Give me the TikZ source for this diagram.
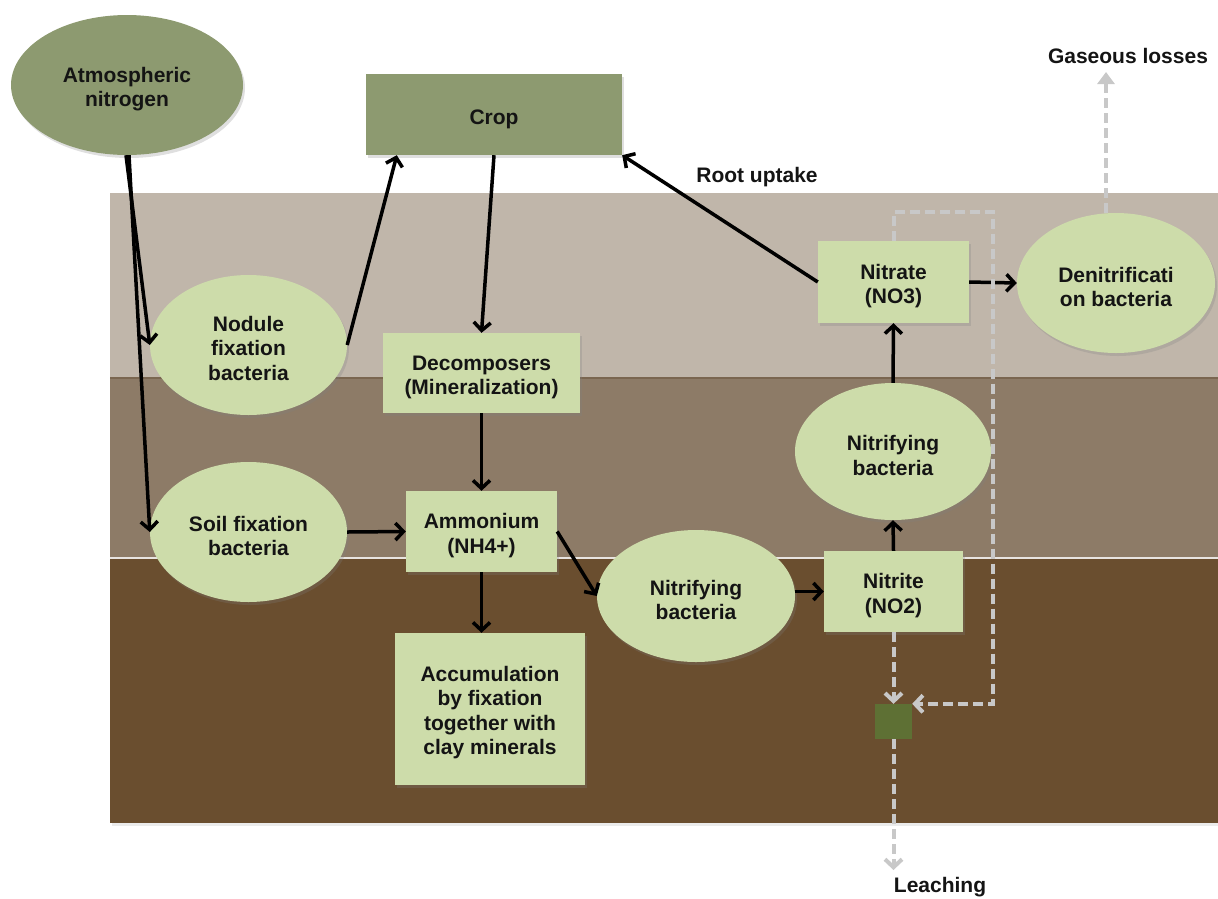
\documentclass[tikz,border=0pt]{standalone}
\usepackage{fontspec}
\setmainfont{Liberation Sans}
\usetikzlibrary{arrows.meta,shapes.geometric,shadows}
\definecolor{bandA}{HTML}{C0B6AA}
\definecolor{bandB}{HTML}{8D7B67}
\definecolor{bandC}{HTML}{6A4E2F}
\definecolor{bandLine}{HTML}{7A6650}
\definecolor{lgreen}{HTML}{CDDCAA}
\definecolor{atmcol}{HTML}{8D9A70}
\definecolor{sqcol}{HTML}{5E7034}
\definecolor{dashgray}{HTML}{C8C8C8}
\tikzset{
  lbl/.style={font=\bfseries\fontsize{21}{24.5}\selectfont, text=black!92, align=center},
  lineA/.style={text height=23.5pt},
  lineB/.style={text height=48pt},
  lineC/.style={text height=71pt},
  lineD/.style={text height=96pt},
  shad/.style={drop shadow={opacity=0.25, shadow xshift=2pt, shadow yshift=-3pt}},
  gbox/.style={lbl, rectangle, fill=lgreen, inner sep=0pt, shad},
  gell/.style={lbl, ellipse, fill=lgreen, inner sep=0pt, shad},
  arr/.style={line width=3.5pt, black, -{Straight Barb[length=8pt,width=17pt]}},
  garr/.style={line width=4pt, dashgray, dash pattern=on 10pt off 5pt, -{Straight Barb[length=8pt,width=17pt]}},
  gtri/.style={line width=4pt, dashgray, dash pattern=on 10pt off 5pt, -{Triangle[length=12pt,width=17pt]}}
}
\begin{document}
\begin{tikzpicture}[x=1pt,y=-1pt]
\path[use as bounding box] (0,0) rectangle (1218,898);
% soil layers
\fill[black,opacity=0.08] (112,195) rectangle (1218,826);
\fill[bandA] (110,193) rectangle (1218,378);
\fill[bandB] (110,378) rectangle (1218,558);
\fill[bandC] (110,558) rectangle (1218,823);
\draw[line width=1.5pt, bandLine] (110,378) -- (1218,378);
\draw[line width=1.5pt, white!80!bandB] (110,558) -- (1218,558);

% nodes
\node[lbl, lineB, ellipse, fill=atmcol, inner sep=0pt, shad, minimum width=232pt, minimum height=140pt] (atm) at (127,85) {Atmospheric\\nitrogen};
\node[lbl, lineA, rectangle, fill=atmcol, inner sep=0pt, shad, minimum width=256pt, minimum height=81pt] (crop) at (494,114.5) {Crop};
\node[gell, lineC, minimum width=197pt, minimum height=140pt] (nod) at (248.5,345) {Nodule\\fixation\\bacteria};
\node[gell, lineB, minimum width=197pt, minimum height=140pt] (soil) at (248.5,532) {Soil fixation\\bacteria};
\node[gbox, lineB, minimum width=197pt, minimum height=80pt] (dec) at (481.5,373) {Decomposers\\(Mineralization)};
\node[gbox, lineB, minimum width=151pt, minimum height=81pt] (amm) at (481.5,531.5) {Ammonium\\(NH4+)};
\node[gbox, lineD, minimum width=190pt, minimum height=152pt] (acc) at (490,709) {Accumulation\\by fixation\\together with\\clay minerals};
\node[gell, lineB, minimum width=198pt, minimum height=132pt] (nitl) at (696,596) {Nitrifying\\bacteria};
\node[gbox, lineB, minimum width=139pt, minimum height=81pt] (nitrite) at (893.5,591.5) {Nitrite\\(NO2)};
\node[gell, lineB, minimum width=196pt, minimum height=137pt] (nitu) at (893,451.5) {Nitrifying\\bacteria};
\node[gbox, lineB, minimum width=151pt, minimum height=82pt] (nitrate) at (893.5,282) {Nitrate\\(NO3)};
\node[gell, lineB, minimum width=198pt, minimum height=140pt] (den) at (1116,283) {Denitrificati\\on bacteria};
\node[rectangle, fill=sqcol, inner sep=0pt, minimum width=37pt, minimum height=35pt] (sq) at (893.5,721.5) {};

\node[lbl] (root) at (757,177) {Root uptake};
\node[lbl] (gas) at (1128,56) {Gaseous losses};
\node[lbl] (leach) at (940,887) {Leaching};
\coordinate (c1) at (993,212);
\coordinate (gasend) at (1106,72);
\coordinate (leachend) at (893.5,870);

% connectors
\draw[arr] ([xshift=-1pt]atm.south) -- (nod.west);
\draw[arr] ([xshift=2pt]atm.south) -- (soil.west);
\draw[arr] (nod.east) -- ([xshift=31pt]crop.south west);
\draw[arr] (crop.south) -- (dec.north);
\draw[arr] (dec.south) -- (amm.north);
\draw[arr] (soil.east) -- (amm.west);
\draw[arr] (amm.south) -- (amm.south |- acc.north);
\draw[arr] (amm.east) -- (nitl.west);
\draw[arr] (nitl.east |- nitrite.west) -- (nitrite.west);
\draw[arr] (nitrite.north) -- (nitu.south);
\draw[arr] (nitu.north) -- (nitrate.south);
\draw[arr] (nitrate.west) -- (crop.south east);
\draw[arr] (nitrate.east) -- (den.west);

% dashed
\draw[garr] (nitrate.north) |- (c1) |- (sq.north east);
\draw[garr] (nitrite.south) -- (sq.north);
\draw[garr] (sq.south) -- (leachend);
\draw[gtri] (den.north -| gasend) -- (gasend);
\end{tikzpicture}
\end{document}
